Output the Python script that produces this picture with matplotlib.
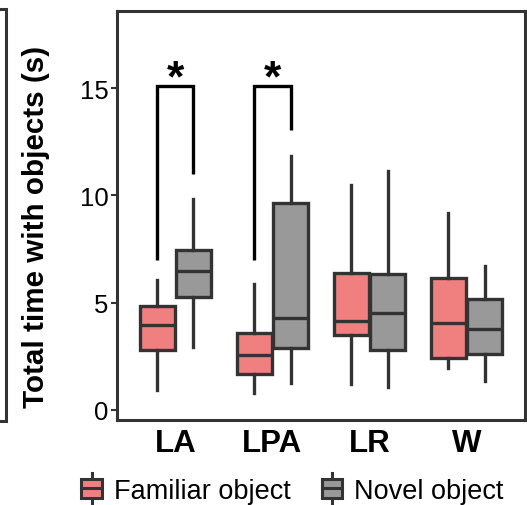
import matplotlib
matplotlib.use("Agg")
import matplotlib.pyplot as plt
from matplotlib.legend_handler import HandlerBase
from matplotlib.patches import Rectangle
from matplotlib.lines import Line2D

plt.rcParams['font.family'] = ['Liberation Sans', 'DejaVu Sans']

# data (seconds)
regions = ["LA", "LPA", "LR", "W"]
groups = ["Familiar object", "Novel object"]
fam_whislo = [0.93, 0.76, 1.19, 1.93]
fam_q1 = [2.78, 1.67, 3.50, 2.39]
fam_med = [3.93, 2.54, 4.14, 4.04]
fam_q3 = [4.84, 3.57, 6.36, 6.15]
fam_whishi = [6.07, 5.88, 10.48, 9.20]
nov_whislo = [2.93, 1.24, 1.04, 1.36]
nov_q1 = [5.24, 2.90, 2.78, 2.61]
nov_med = [6.47, 4.27, 4.50, 3.76]
nov_q3 = [7.43, 9.66, 6.31, 5.16]
nov_whishi = [9.84, 11.84, 11.15, 6.71]

# significance brackets: region index, top, left leg end, right leg end
sig_idx = [0, 1]
sig_top = [15.1, 15.1]
sig_left = [7.0, 7.0]
sig_right = [11.0, 13.05]

fam_col = "#F08080"
nov_col = "#999999"
edge = "#333333"
lw = 2.4

fig = plt.figure(figsize=(5.27, 5.06), dpi=100)
ax = fig.add_axes([0.222, 0.168, 0.774, 0.808])

# edge of the neighbouring panel's frame, cut off at the left border
fig.add_artist(Line2D([0, 0.0105, 0.0105, 0], [0.980, 0.980, 0.166, 0.166],
                      transform=fig.transFigure, color=edge, lw=2.2,
                      solid_joinstyle="miter"))

off = 0.1875
bw = 0.36


def stats(lo, q1, med, q3, hi):
    return [dict(whislo=a, q1=b, med=c, q3=d, whishi=e, fliers=[])
            for a, b, c, d, e in zip(lo, q1, med, q3, hi)]


x = list(range(1, len(regions) + 1))
for st, pos, col in [
    (stats(fam_whislo, fam_q1, fam_med, fam_q3, fam_whishi), [i - off for i in x], fam_col),
    (stats(nov_whislo, nov_q1, nov_med, nov_q3, nov_whishi), [i + off for i in x], nov_col),
]:
    ax.bxp(st, positions=pos, widths=bw, showcaps=False, patch_artist=True,
           boxprops=dict(facecolor=col, edgecolor=edge, linewidth=lw),
           medianprops=dict(color=edge, linewidth=lw),
           whiskerprops=dict(color=edge, linewidth=lw), manage_ticks=False)

for i, top, yl, yr in zip(sig_idx, sig_top, sig_left, sig_right):
    xl, xr = x[i] - off, x[i] + off
    ax.plot([xl, xl, xr, xr], [yl, top, top, yr], color="black", lw=2.4,
            solid_joinstyle="miter", solid_capstyle="butt")
    ax.text(x[i], top - 0.2, "*", ha="center", va="baseline", fontsize=32,
            fontweight="bold")

ax.set_xlim(0.4, 4.6)
ax.set_ylim(-0.48, 18.6)
ax.set_yticks([0, 5, 10, 15])
ax.set_xticks(x)
ax.set_xticklabels(regions, fontsize=22.5, fontweight="bold")
ax.tick_params(axis="y", labelsize=18.5, length=4, width=1.5, color=edge, pad=2)
ax.tick_params(axis="x", length=0, pad=6)
for s in ax.spines.values():
    s.set_color(edge)
    s.set_linewidth(2.2)
ax.set_ylabel("Total time with objects (s)", fontsize=21.3, fontweight="bold")
ax.yaxis.set_label_coords(-0.165, 0.475)


class BoxKey(HandlerBase):
    def create_artists(self, legend, orig, xd, yd, w, h, fs, trans):
        cx = xd + w / 2
        r = Rectangle((xd, yd), w, h, facecolor=orig.get_facecolor(),
                      edgecolor=edge, lw=2.2, transform=trans)
        top = Line2D([cx, cx], [yd + h, yd + 1.3 * h], color=edge, lw=2.2,
                     transform=trans)
        bot = Line2D([cx, cx], [yd, yd - 0.3 * h], color=edge, lw=2.2,
                     transform=trans)
        med = Line2D([xd, xd + w], [yd + 0.5 * h, yd + 0.5 * h], color=edge, lw=2.2,
                     transform=trans)
        return [top, bot, r, med]


handles = [Rectangle((0, 0), 1, 1, facecolor=fam_col),
           Rectangle((0, 0), 1, 1, facecolor=nov_col)]
fig.legend(handles, groups, loc="lower center", bbox_to_anchor=(0.555, -0.046),
           ncol=2, frameon=False, fontsize=19.5, handler_map={Rectangle: BoxKey()},
           handlelength=0.75, handleheight=0.7, handletextpad=0.45, columnspacing=1.15)

fig.savefig("out.png", dpi=100)
